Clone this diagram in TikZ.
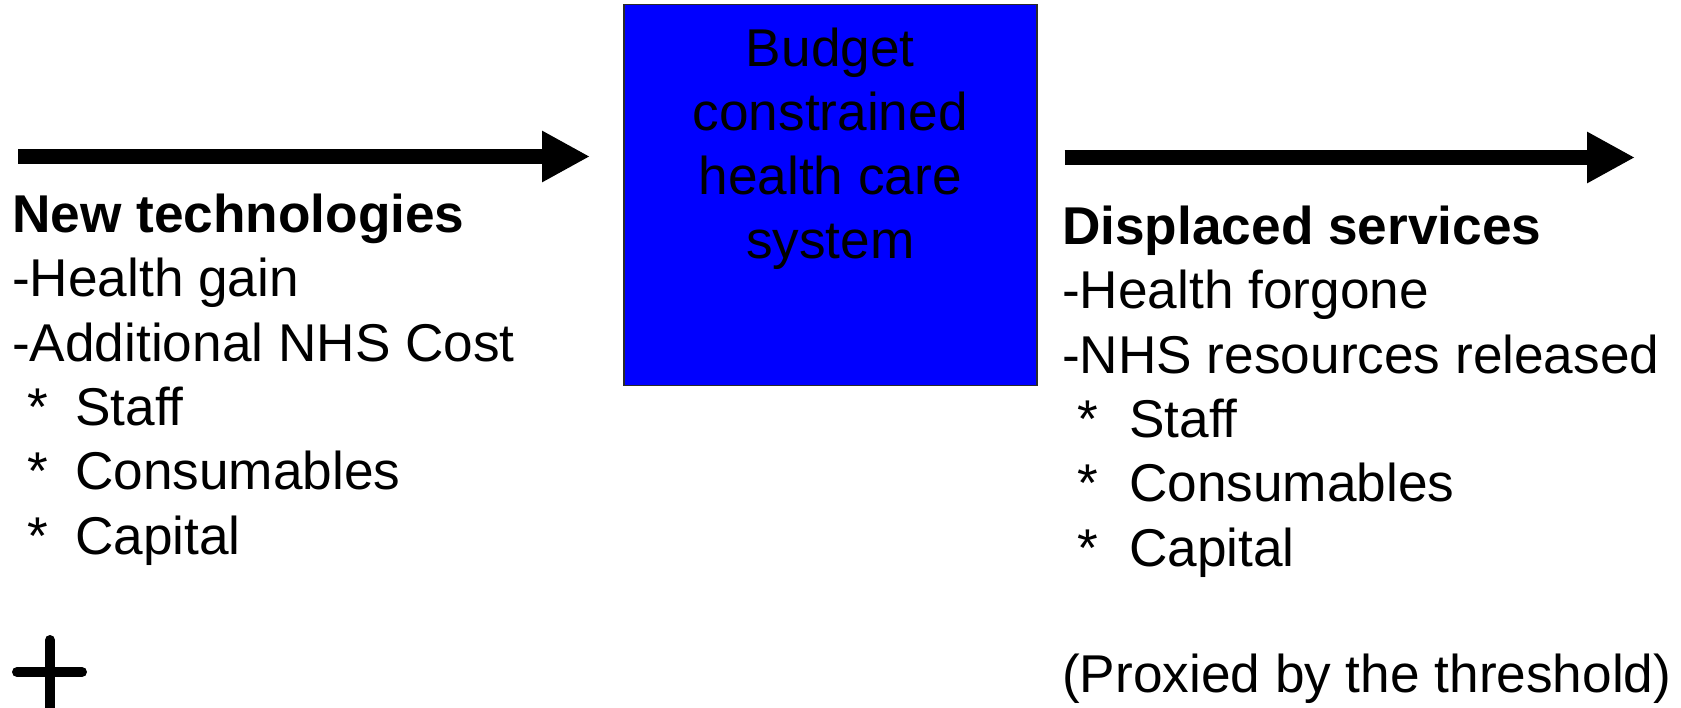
\documentclass[tikz,border=0pt]{standalone}
\usepackage{fontspec}
\setmainfont{Liberation Sans}
\usepackage{xcolor}
\definecolor{ink}{HTML}{000000}
\definecolor{sysblue}{HTML}{0000FF}
\definecolor{edge}{HTML}{2B2B2B}
\usetikzlibrary{positioning,arrows.meta,calc}
\newcommand{\itm}[2][63pt]{\makebox[#1][l]{\hspace*{15pt}*}#2}
\tikzset{
  >={Triangle[length=48pt,width=48pt]},
  sysbox/.style={draw=edge,fill=sysblue,line width=1.5pt,minimum width=413pt,minimum height=381pt,inner sep=0pt},
  txt/.style={font=\fontsize{53.2}{64.3}\selectfont,align=left,inner sep=0pt,text=ink},
  boxtxt/.style={txt,align=center},
  flow/.style={->,draw=ink,line width=15pt},
  plus/.style={draw=ink,line width=10pt,line cap=round},
}
\begin{document}
\begin{tikzpicture}[x=1pt,y=-1pt]
  \useasboundingbox (0,0) rectangle (1681,708);
  \node[sysbox,anchor=north west] (sys) at (623,4) {};
  % base = baseline of the last line
  \node[boxtxt,anchor=base] (systxt) at ($(sys.north)+(0,255)$) {Budget\\constrained\\health care\\system};
  \node[txt,anchor=base west] (newtech) at (12,554) {\textbf{New technologies}\\-Health gain\\-Additional NHS Cost\\\itm{Staff}\\\itm{Consumables}\\\itm{Capital}};
  \node[txt,anchor=base west] (displaced) at (1062,566) {\textbf{Displaced services}\\-Health forgone\\-NHS resources released\\\itm[67pt]{Staff}\\\itm[67pt]{Consumables}\\\itm[67pt]{Capital}};
  \node[txt,anchor=base west] (proxy) at (1062,692) {(Proxied by the threshold)};
  \coordinate (src) at (18,156.5);
  \coordinate (dst) at (1635,157.5);
  \draw[flow,shorten >=33pt] (src) -- (src -| sys.west);
  \draw[flow,shorten <=27pt] (dst -| sys.east) -- (dst);
  % the plus sign, cut off by the lower edge
  \coordinate (plusc) at (50,672);
  \draw[plus] ($(plusc)+(-33,0)$) -- ($(plusc)+(32,0)$)
    ($(plusc)+(0,-32)$) -- ($(plusc)+(0,45)$);
\end{tikzpicture}
\end{document}
